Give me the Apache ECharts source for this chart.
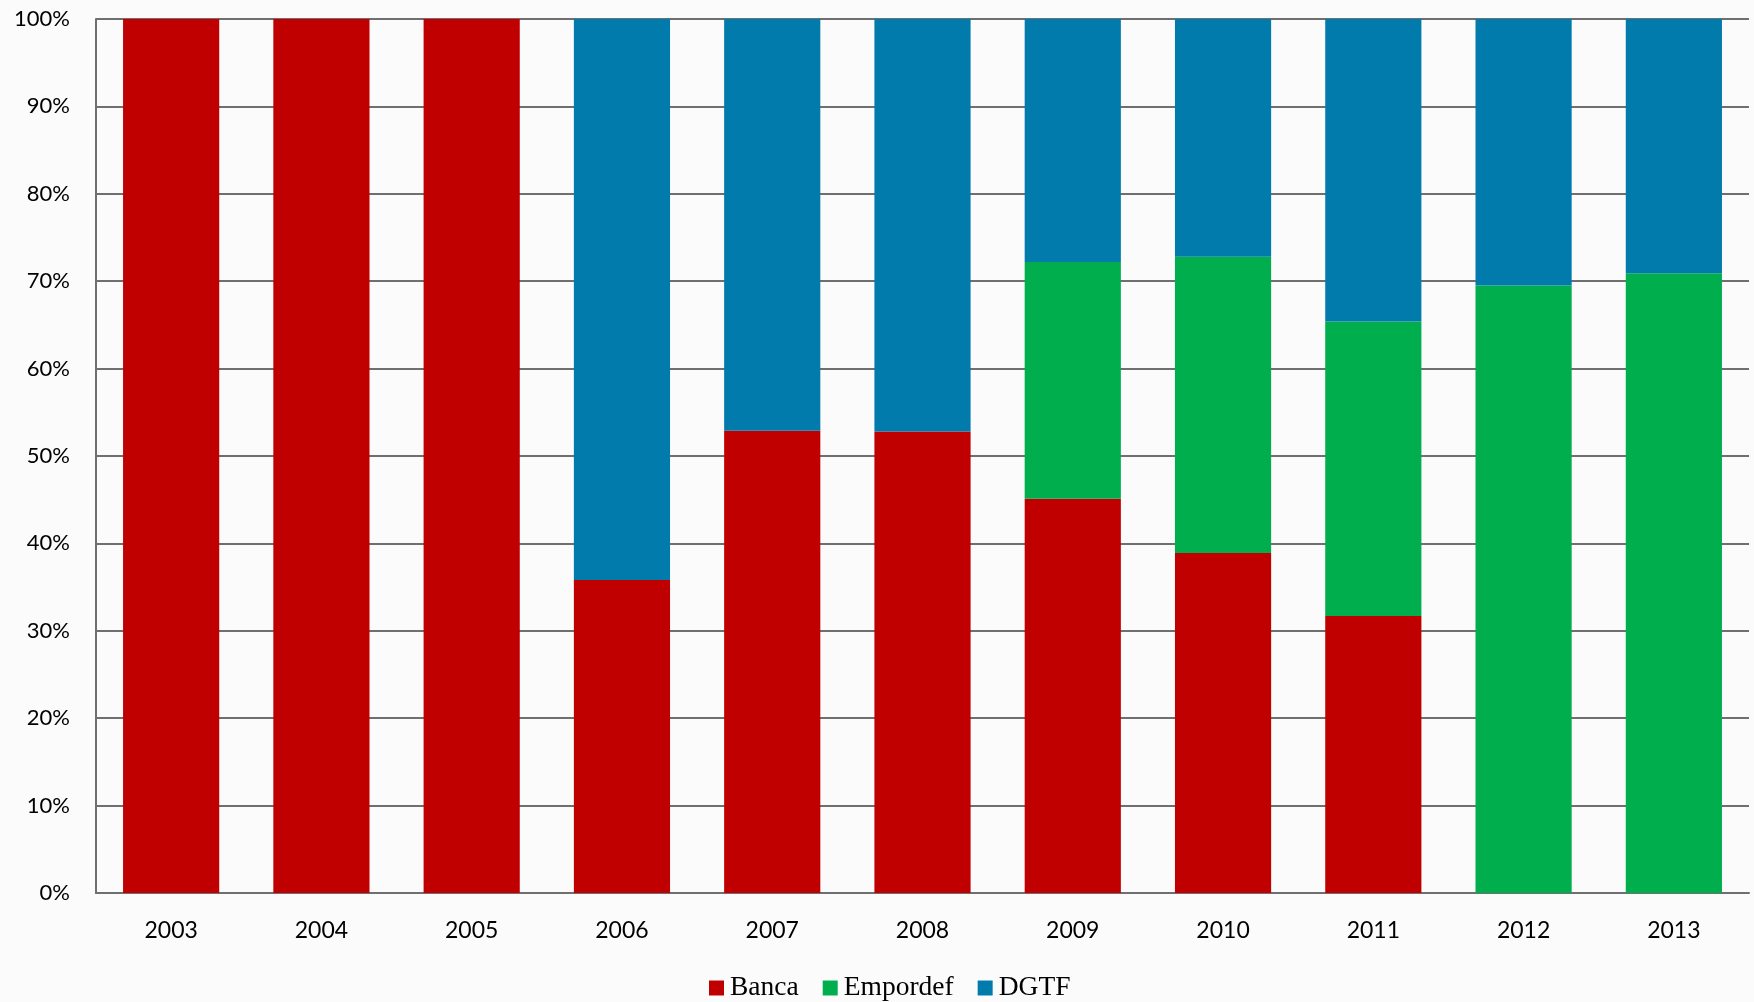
<!DOCTYPE html>
<html>
<head>
<meta charset="utf-8">
<script src="https://cdn.jsdelivr.net/npm/echarts@6/dist/echarts.min.js"></script>
<style>
html,body{margin:0;padding:0;background:#fbfbfb;}
#chart{width:1754px;height:1002px;}
</style>
</head>
<body>
<div id="chart"></div>
<script>
const years = ['2003','2004','2005','2006','2007','2008','2009','2010','2011','2012','2013'];
const banca    = [100, 100, 100, 35.8, 52.9, 52.8, 45.1, 38.9, 31.7, 0, 0];
const empordef = [0, 0, 0, 0, 0, 0, 27.1, 33.9, 33.7, 69.5, 70.9];
const dgtf     = [0, 0, 0, 64.2, 47.1, 47.2, 27.8, 27.2, 34.6, 30.5, 29.1];
const yTicks = [0,10,20,30,40,50,60,70,80,90,100];

const chart = echarts.init(document.getElementById('chart'));
const mk = (name, data, color) => ({
  name, type: 'bar', stack: 'total', data,
  barWidth: '64%',
  itemStyle: { color },
  emphasis: { disabled: true }
});
chart.setOption({
  backgroundColor: '#fbfbfb',
  animation: false,
  grid: { left: 96, right: 5, top: 19, bottom: 109, containLabel: false },
  legend: {
    data: ['Banca','Empordef','DGTF'],
    left: 704, top: 969,
    itemWidth: 15, itemHeight: 15, itemGap: 24,
    icon: 'rect',
    textStyle: { fontFamily: 'Liberation Serif', fontSize: 27.5, color: '#000', padding: [0,0,0,1] }
  },
  xAxis: {
    type: 'category', data: years,
    axisLine: { lineStyle: { color: '#6f6f6f', width: 2 } },
    axisTick: { show: false },
    axisLabel: { color: '#000', fontFamily: 'Lato', fontSize: 23, margin: 26 }
  },
  yAxis: {
    type: 'value', min: yTicks[0], max: yTicks[yTicks.length-1], interval: 10,
    axisLine: { show: true, lineStyle: { color: '#6f6f6f', width: 2 } },
    axisTick: { show: false },
    splitLine: { lineStyle: { color: '#6f6f6f', width: 2 } },
    axisLabel: { color: '#000', fontFamily: 'Lato', fontSize: 22, margin: 26, formatter: v => v + '%' }
  },
  series: [
    mk('Banca', banca, '#C00000'),
    mk('Empordef', empordef, '#00AE4E'),
    mk('DGTF', dgtf, '#007BAC')
  ]
});
</script>
</body>
</html>
